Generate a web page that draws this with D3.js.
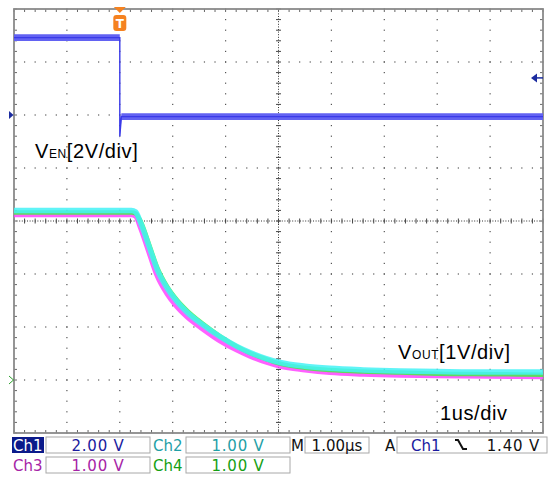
<!DOCTYPE html>
<html>
<head>
<meta charset="utf-8">
<script src="https://cdn.jsdelivr.net/npm/d3@7"></script>
<style>
  body { margin: 0; background: #fff; }
  svg { display: block; }
</style>
</head>
<body>
<svg id="scope" width="548" height="477"></svg>
<script>
// time in us, 0 = trigger point
var enTime = [-2, -0.01, 0, 0, 0.03, 8];
var enVolt = [2.92, 2.92, 2.92, -0.8, -0.06, -0.06];

var outTime = [-2, 0.22, 0.3, 0.38, 0.57, 0.70, 0.89, 1.08, 1.27, 1.57, 1.89, 2.22, 2.46, 2.75, 3.03, 3.5, 3.97, 4.6, 5.3, 6.0, 7.0, 8.0];
var ch2Volt = [3.2, 3.2, 3.17, 3.0, 2.47, 2.10, 1.74, 1.48, 1.28, 1.04, 0.82, 0.63, 0.52, 0.41, 0.33, 0.26, 0.22, 0.19, 0.17, 0.16, 0.15, 0.15];
var ch3Volt = [3.12, 3.12, 3.09, 2.9, 2.35, 1.98, 1.63, 1.38, 1.19, 0.96, 0.74, 0.56, 0.45, 0.34, 0.26, 0.19, 0.14, 0.11, 0.09, 0.08, 0.07, 0.06];
var ch4Volt = [3.16, 3.16, 3.14, 3.02, 2.51, 2.14, 1.77, 1.51, 1.31, 1.06, 0.83, 0.63, 0.51, 0.40, 0.31, 0.23, 0.19, 0.16, 0.14, 0.12, 0.11, 0.10];

var chNames = ["Ch1", "Ch2", "Ch3", "Ch4"];
var chScales = ["2.00 V", "1.00 V", "1.00 V", "1.00 V"];
var timeBase = "1.00µs";
var trigSource = "Ch1";
var trigLevel = 1.40;

var svg = d3.select("#scope");

var x = d3.scaleLinear().domain([-2, 8]).range([14, 543]);
var yDiv = d3.scaleLinear().domain([0, 8]).range([433, 9]);
// ch1 ground at div 6, 2V/div ; ch2-4 ground at div 1, 1V/div
var yEn = function(v) { return yDiv(6 + v / 2); };
var yOut = function(v) { return yDiv(1 + v); };

// ---- graticule
var grid = svg.append("g");
var minors = d3.range(0, 50.01, 1).map(function(i) { return i / 5; });   // 0..10 div, 0.2 step
var minorsY = d3.range(0, 40.01, 1).map(function(i) { return i / 5; });

[1, 2, 3, 4, 6, 7, 8, 9].forEach(function(d) {
  grid.selectAll(null).data(minorsY).enter().append("rect")
    .attr("x", x(d - 2) - 0.6).attr("y", function(v) { return yDiv(v) - 0.6; })
    .attr("width", 1.2).attr("height", 1.2).attr("fill", "#555");
});
[1, 2, 3, 5, 6, 7].forEach(function(d) {
  grid.selectAll(null).data(minors).enter().append("rect")
    .attr("x", function(v) { return x(v - 2) - 0.6; }).attr("y", yDiv(d) - 0.6)
    .attr("width", 1.2).attr("height", 1.2).attr("fill", "#555");
});

// centre cross
grid.append("line").attr("x1", x(3)).attr("x2", x(3)).attr("y1", yDiv(0)).attr("y2", yDiv(8))
  .attr("stroke", "#333").attr("stroke-dasharray", "1,1.6");
grid.append("line").attr("x1", x(-2)).attr("x2", x(8)).attr("y1", yDiv(4)).attr("y2", yDiv(4))
  .attr("stroke", "#333").attr("stroke-dasharray", "1,1.6");
grid.selectAll(null).data(minors).enter().append("line")
  .attr("x1", function(v) { return x(v - 2); }).attr("x2", function(v) { return x(v - 2); })
  .attr("y1", yDiv(4) - 2.5).attr("y2", yDiv(4) + 2.5).attr("stroke", "#444");
grid.selectAll(null).data(minorsY).enter().append("line")
  .attr("y1", function(v) { return yDiv(v); }).attr("y2", function(v) { return yDiv(v); })
  .attr("x1", x(3) - 2.5).attr("x2", x(3) + 2.5).attr("stroke", "#444");

// frame with edge ticks
grid.selectAll(null).data(minors).enter().append("line")
  .attr("x1", function(v) { return x(v - 2); }).attr("x2", function(v) { return x(v - 2); })
  .attr("y1", yDiv(8)).attr("y2", yDiv(8) + 3).attr("stroke", "#666");
grid.selectAll(null).data(minors).enter().append("line")
  .attr("x1", function(v) { return x(v - 2); }).attr("x2", function(v) { return x(v - 2); })
  .attr("y1", yDiv(0)).attr("y2", yDiv(0) - 3).attr("stroke", "#666");
grid.selectAll(null).data(minorsY).enter().append("line")
  .attr("y1", function(v) { return yDiv(v); }).attr("y2", function(v) { return yDiv(v); })
  .attr("x1", x(-2)).attr("x2", x(-2) + 3).attr("stroke", "#666");
grid.selectAll(null).data(minorsY).enter().append("line")
  .attr("y1", function(v) { return yDiv(v); }).attr("y2", function(v) { return yDiv(v); })
  .attr("x1", x(8)).attr("x2", x(8) - 3).attr("stroke", "#666");
grid.append("rect").attr("x", x(-2)).attr("y", yDiv(8))
  .attr("width", x(8) - x(-2)).attr("height", yDiv(0) - yDiv(8))
  .attr("fill", "none").attr("stroke", "#8a8a8a").attr("stroke-width", 1.8);

// ---- traces
var enData = enTime.map(function(t, i) { return { t: t, v: enVolt[i] }; });
var enBand = d3.area()
  .x(function(d) { return x(d.t); })
  .y0(function(d) { return yEn(d.v) - 3.3; })
  .y1(function(d) { return yEn(d.v) + 3.3; });
svg.append("path").datum(enData).attr("d", enBand).attr("fill", "#6262f2");
svg.append("path").datum(enData)
  .attr("d", d3.line().x(function(d) { return x(d.t); }).y(function(d) { return yEn(d.v); }))
  .attr("fill", "none").attr("stroke", "#3a3ae8").attr("stroke-width", 1.4);

var outLine = d3.line()
  .x(function(d) { return x(d.t); })
  .y(function(d) { return yOut(d.v); })
  .curve(d3.curveMonotoneX);
var outSeries = [
  { vals: ch3Volt, color: "#ff44ff", w: 5 },
  { vals: ch4Volt, color: "#44f044", w: 4.5 },
  { vals: ch2Volt, color: "#44f2f6", w: 5.5 }
];
outSeries.forEach(function(s) {
  svg.append("path")
    .datum(outTime.map(function(t, i) { return { t: t, v: s.vals[i] }; }))
    .attr("d", outLine)
    .attr("fill", "none").attr("stroke", s.color).attr("stroke-width", s.w)
    .attr("stroke-opacity", 0.85).attr("stroke-linejoin", "round");
});

// ---- markers
var tx = x(0);
svg.append("path").attr("d", "M" + (tx - 6) + ",7 L" + (tx + 6) + ",7 L" + tx + ",13 Z").attr("fill", "#f58220");
svg.append("rect").attr("x", tx - 6.5).attr("y", 15).attr("width", 13).attr("height", 16).attr("rx", 3)
  .attr("fill", "#f58220");
svg.append("text").attr("x", tx).attr("y", 28).attr("text-anchor", "middle")
  .attr("font-family", "DejaVu Sans").attr("font-weight", "bold").attr("font-size", 12)
  .attr("fill", "#fff").text("T");

var g1 = yEn(0);
svg.append("path").attr("d", "M9," + (g1 - 4) + " L13.5," + g1 + " L9," + (g1 + 4) + " Z").attr("fill", "#1c2ca0");
var g4 = yOut(0);
svg.append("path").attr("d", "M9," + (g4 - 4) + " L13.5," + g4 + " L9," + (g4 + 4))
  .attr("fill", "none").attr("stroke", "#2aa02a").attr("stroke-width", 1);
var tl = yEn(trigLevel);
svg.append("path").attr("d", "M531," + tl + " L537," + (tl - 4.5) + " L537," + (tl + 4.5) + " Z").attr("fill", "#1c2ca0");
svg.append("line").attr("x1", 536).attr("x2", 543).attr("y1", tl).attr("y2", tl)
  .attr("stroke", "#1c2ca0").attr("stroke-width", 1.5);

// ---- labels in graticule
function label(px, py, main, sub, rest) {
  var t = svg.append("text").attr("x", px).attr("y", py)
    .attr("font-family", "Liberation Sans, Arial, sans-serif").attr("font-size", 20)
    .attr("letter-spacing", 0.6).attr("fill", "#000");
  t.append("tspan").text(main);
  if (sub) t.append("tspan").attr("font-size", 12).text(sub);
  if (rest) t.append("tspan").text(rest);
}
label(35, 158, "V", "EN", "[2V/div]");
label(398, 359, "V", "OUT", "[1V/div]");
label(440, 420, "1us/div");

// ---- status bar
var sb = svg.append("g").attr("font-family", "DejaVu Sans").attr("font-size", 15);
var chColors = ["#1a1a9e", "#1fa0a6", "#a624a6", "#14a014"];
var slotX = [12, 152, 12, 152];
var slotY = [437, 437, 457, 457];

chNames.forEach(function(name, i) {
  var lx = slotX[i], ry = slotY[i];
  if (i === 0) {
    sb.append("rect").attr("x", lx).attr("y", ry).attr("width", 32).attr("height", 16).attr("fill", "#0b1a8a");
  }
  sb.append("text").attr("x", lx + 1).attr("y", ry + 14)
    .attr("fill", i === 0 ? "#fff" : chColors[i]).text(name);
  sb.append("rect").attr("x", lx + 34).attr("y", ry).attr("width", 104).attr("height", 16)
    .attr("fill", "none").attr("stroke", "#a8a8a8");
  sb.append("text").attr("x", lx + 86).attr("y", ry + 14).attr("text-anchor", "middle")
    .attr("letter-spacing", 0.8).attr("fill", chColors[i]).text(chScales[i]);
});

sb.append("text").attr("x", 291).attr("y", 451).attr("fill", "#111").text("M");
sb.append("rect").attr("x", 305).attr("y", 437).attr("width", 64).attr("height", 16)
  .attr("fill", "none").attr("stroke", "#a8a8a8");
sb.append("text").attr("x", 337).attr("y", 451).attr("text-anchor", "middle").attr("fill", "#111").text(timeBase);
sb.append("text").attr("x", 385).attr("y", 451).attr("fill", "#111").text("A");
sb.append("rect").attr("x", 397).attr("y", 437).attr("width", 150).attr("height", 16)
  .attr("fill", "none").attr("stroke", "#a8a8a8");
sb.append("text").attr("x", 411).attr("y", 451).attr("fill", "#1a1a9e").text(trigSource);
sb.append("path").attr("d", "M455,440 H458 L463,449 H467").attr("fill", "none")
  .attr("stroke", "#111").attr("stroke-width", 2);
sb.append("text").attr("x", 540).attr("y", 451).attr("text-anchor", "end")
  .attr("letter-spacing", 0.8).attr("fill", "#111").text(d3.format(".2f")(trigLevel) + " V");
</script>
</body>
</html>
